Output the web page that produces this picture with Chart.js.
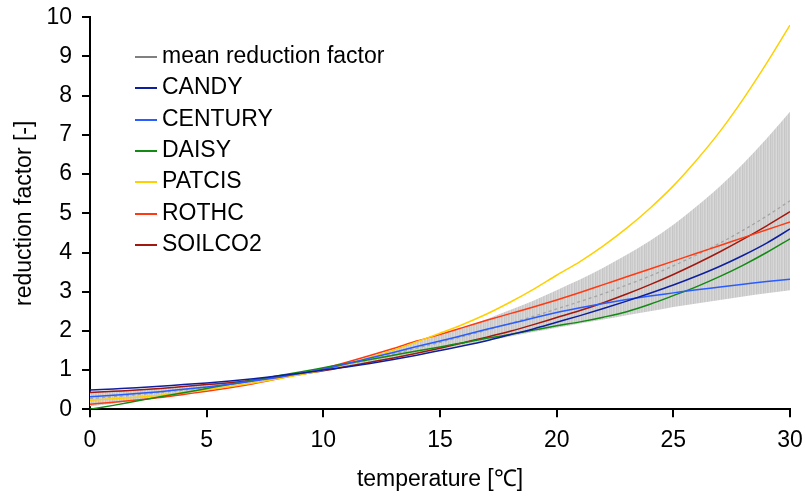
<!DOCTYPE html>
<html>
<head>
<meta charset="utf-8">
<script src="https://cdn.jsdelivr.net/npm/chart.js@4.4.1/dist/chart.umd.min.js"></script>
<style>
  html, body { margin: 0; padding: 0; background: #fff; }
  #wrap { position: relative; width: 805px; height: 497px; overflow: hidden; }
  #c { position: absolute; left: 0; top: 0; }
  .lg-line { position: absolute; left: 135px; width: 22px; height: 2px; }
  .lg-text { position: absolute; left: 162px; height: 30px; line-height: 30px; font: 23px "Liberation Sans", Arial, Helvetica, sans-serif; color: #000; white-space: nowrap; }
</style>
</head>
<body>
<div id="wrap">
  <canvas id="c" width="805" height="497"></canvas>
  <div id="legend"></div>
</div>
<script>
// ---- data ----
const temperature = [0,1,2,3,4,5,6,7,8,9,10,11,12,13,14,15,16,17,18,19,20,21,22,23,24,25,26,27,28,29,30];
const candy   = [0.49,0.52,0.55,0.59,0.63,0.67,0.72,0.78,0.85,0.92,1.00,1.08,1.17,1.27,1.38,1.50,1.62,1.75,1.90,2.05,2.22,2.39,2.57,2.76,2.96,3.17,3.40,3.65,3.93,4.24,4.60];
const century = [0.32,0.36,0.40,0.45,0.51,0.57,0.64,0.72,0.81,0.91,1.02,1.16,1.31,1.45,1.60,1.74,1.89,2.04,2.18,2.33,2.47,2.59,2.70,2.80,2.89,2.97,3.05,3.12,3.19,3.26,3.32];
const daisy   = [0.00,0.10,0.21,0.32,0.42,0.53,0.64,0.74,0.85,0.95,1.06,1.17,1.27,1.38,1.49,1.59,1.70,1.81,1.91,2.02,2.13,2.23,2.35,2.49,2.68,2.90,3.13,3.39,3.68,4.00,4.35];
const patcis  = [0.23,0.27,0.31,0.36,0.43,0.50,0.58,0.67,0.77,0.88,1.00,1.15,1.32,1.51,1.72,1.94,2.17,2.43,2.73,3.06,3.42,3.77,4.17,4.62,5.13,5.70,6.36,7.09,7.92,8.83,9.80];
const rothc   = [0.13,0.18,0.24,0.30,0.38,0.46,0.55,0.65,0.77,0.90,1.04,1.20,1.37,1.55,1.74,1.91,2.09,2.27,2.44,2.61,2.79,2.98,3.18,3.38,3.58,3.78,3.98,4.18,4.38,4.58,4.78];
const soilco2 = [0.43,0.46,0.49,0.53,0.58,0.63,0.68,0.74,0.81,0.89,0.98,1.09,1.20,1.31,1.43,1.56,1.70,1.84,1.99,2.16,2.34,2.52,2.72,2.94,3.18,3.44,3.72,4.02,4.34,4.68,5.04];
const meanFactor = [0.27,0.32,0.37,0.43,0.49,0.56,0.64,0.72,0.81,0.91,1.02,1.14,1.27,1.41,1.56,1.71,1.86,2.02,2.19,2.37,2.56,2.75,2.95,3.17,3.40,3.66,3.94,4.24,4.57,4.93,5.32];
const bandUpper  = [0.45,0.48,0.50,0.54,0.59,0.64,0.70,0.77,0.85,0.93,1.05,1.19,1.35,1.52,1.71,1.89,2.09,2.30,2.53,2.77,3.04,3.31,3.61,3.94,4.30,4.71,5.18,5.69,6.27,6.91,7.59];
const bandLower  = [0.08,0.15,0.23,0.31,0.39,0.48,0.57,0.67,0.77,0.88,0.99,1.10,1.20,1.30,1.41,1.52,1.64,1.75,1.86,1.97,2.08,2.19,2.29,2.40,2.50,2.61,2.70,2.79,2.88,2.96,3.04];
const xTickValues = [0,5,10,15,20,25,30];
const yTickValues = [0,1,2,3,4,5,6,7,8,9,10];
const xTitle = 'temperature [\u2103]';
const yTitle = 'reduction factor [-]';

// ---- styles ----
const FONT = '"Liberation Sans", Arial, Helvetica, sans-serif';
const series = [
  { label: 'CANDY',   data: candy,   color: '#0d1f9e' },
  { label: 'CENTURY', data: century, color: '#2a5cff' },
  { label: 'DAISY',   data: daisy,   color: '#138a13' },
  { label: 'PATCIS',  data: patcis,  color: '#ffd000' },
  { label: 'ROTHC',   data: rothc,   color: '#ff3a12' },
  { label: 'SOILCO2', data: soilco2, color: '#a3180e' }
];
const toXY = arr => temperature.map((t, i) => ({ x: t, y: arr[i] }));

const canvas = document.getElementById('c');
const ctx = canvas.getContext('2d');
// striped light-grey pattern for the spread band
const pc = document.createElement('canvas');
pc.width = 7; pc.height = 1;
const pctx = pc.getContext('2d');
['#c6c6c6','#d2d2d2','#cbcbcb','#d7d7d7','#c9c9c9','#cfcfcf','#d9d9d9'].forEach((s, i) => { pctx.fillStyle = s; pctx.fillRect(i, 0, 1, 1); });
const bandPattern = ctx.createPattern(pc, 'repeat');

const lineBase = { pointRadius: 0, pointHoverRadius: 0, borderWidth: 1.5, fill: false, cubicInterpolationMode: 'monotone' };
const datasets = series.map(s => Object.assign({}, lineBase, { label: s.label, data: toXY(s.data), borderColor: s.color }));
datasets.push(Object.assign({}, lineBase, { label: 'mean reduction factor', data: toXY(meanFactor), borderColor: '#a4a4a4', borderDash: [3, 3], borderWidth: 1.3 }));
datasets.push({ label: 'upper', data: toXY(bandUpper), pointRadius: 0, borderWidth: 0, borderColor: 'rgba(0,0,0,0)', backgroundColor: bandPattern, fill: { target: '+1' }, cubicInterpolationMode: 'monotone' });
datasets.push({ label: 'lower', data: toXY(bandLower), pointRadius: 0, borderWidth: 0, borderColor: 'rgba(0,0,0,0)', fill: false, cubicInterpolationMode: 'monotone' });

const axisCommon = {
  type: 'linear',
  border: { display: true, color: '#000', width: 2 },
  grid: { display: true, drawOnChartArea: false, drawTicks: true, tickLength: 8, color: '#000', lineWidth: 2 },
  ticks: { color: '#000', font: { family: FONT, size: 23 }, padding: 10 }
};

new Chart(ctx, {
  type: 'line',
  data: { datasets },
  options: {
    responsive: false,
    maintainAspectRatio: false,
    animation: false,
    layout: { padding: { left: 0, top: 17.3, right: 15, bottom: 0 } },
    plugins: { legend: { display: false }, tooltip: { enabled: false } },
    scales: {
      x: Object.assign({}, axisCommon, {
        min: 0, max: 30,
        afterBuildTicks: sc => { sc.ticks = xTickValues.map(v => ({ value: v })); },
        afterFit: sc => { sc.height = 87.7; sc.paddingLeft = 0; sc.paddingRight = 0; },
        title: { display: true, text: xTitle, color: '#000', font: { family: FONT, size: 23 }, padding: { top: 0, bottom: 4 } }
      }),
      y: Object.assign({}, axisCommon, {
        min: 0, max: 10,
        afterBuildTicks: sc => { sc.ticks = yTickValues.map(v => ({ value: v })); },
        afterFit: sc => { sc.width = 90; sc.paddingTop = 0; sc.paddingBottom = 0; },
        title: { display: true, text: yTitle, color: '#000', font: { family: FONT, size: 23 }, padding: { top: 11, bottom: 0 } }
      })
    }
  }
});

// ---- legend (HTML, inside the plot area) ----
const legendItems = [{ label: 'mean reduction factor', color: '#808080' }].concat(series.map(s => ({ label: s.label, color: s.color })));
const legendEl = document.getElementById('legend');
legendItems.forEach((it, i) => {
  const y = Math.round(56.7 + i * 31.4);
  const ln = document.createElement('div');
  ln.className = 'lg-line';
  ln.style.top = (y - 1) + 'px';
  ln.style.background = it.color;
  legendEl.appendChild(ln);
  const tx = document.createElement('div');
  tx.className = 'lg-text';
  tx.style.top = (y - 15) + 'px';
  tx.textContent = it.label;
  legendEl.appendChild(tx);
});
</script>
</body>
</html>
